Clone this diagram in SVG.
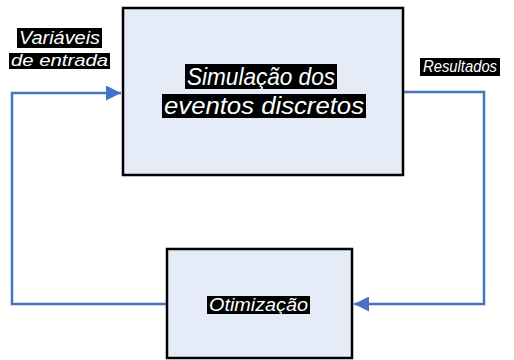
<svg xmlns="http://www.w3.org/2000/svg" width="514" height="360" viewBox="0 0 514 360">
<defs>
<marker id="arr" viewBox="0 0 10 10" refX="10" refY="5" markerWidth="6" markerHeight="6" markerUnits="strokeWidth" orient="auto">
<path d="M0,0 L10,5 L0,10 z" fill="#4472C4"/>
</marker>
</defs>
<style>
.box{fill:#E6ECF7;stroke:#000;stroke-width:2.5}
.conn{fill:none;stroke:#4472C4;stroke-width:2.5;marker-end:url(#arr)}
.bg{fill:#000}
.t{fill:#fff;font-family:"Liberation Sans",Arial,sans-serif;font-style:italic}
</style>
<rect width="514" height="360" fill="#fff"/>
<g id="connectors">
<path class="conn" d="M167,304 H12 V93 H121"/>
<path class="conn" d="M403,92 H484 V304 H354"/>
</g>
<g id="sim">
<rect class="box" x="123" y="8" width="280" height="167"/>
<rect class="bg" x="185" y="64" width="152" height="25"/>
<rect class="bg" x="162" y="94" width="204" height="24"/>
<text class="t" x="187" y="85" font-size="24" textLength="148" lengthAdjust="spacingAndGlyphs">Simulação dos</text>
<text class="t" x="164" y="114" font-size="24" textLength="200" lengthAdjust="spacingAndGlyphs">eventos discretos</text>
</g>
<g id="opt">
<rect class="box" x="167" y="249" width="185" height="109"/>
<rect class="bg" x="207" y="296" width="103" height="18"/>
<text class="t" x="209" y="311" font-size="18" textLength="99" lengthAdjust="spacingAndGlyphs">Otimização</text>
</g>
<g id="in">
<rect class="bg" x="17" y="28" width="85" height="20"/>
<rect class="bg" x="9" y="53" width="101" height="16"/>
<text class="t" x="19" y="44" font-size="18" textLength="81" lengthAdjust="spacingAndGlyphs">Variáveis</text>
<text class="t" x="11" y="66" font-size="17" textLength="97" lengthAdjust="spacingAndGlyphs">de entrada</text>
</g>
<g id="out">
<rect class="bg" x="420" y="58" width="80" height="18"/>
<text class="t" x="423" y="72" font-size="16" textLength="74" lengthAdjust="spacingAndGlyphs">Resultados</text>
</g>
</svg>
